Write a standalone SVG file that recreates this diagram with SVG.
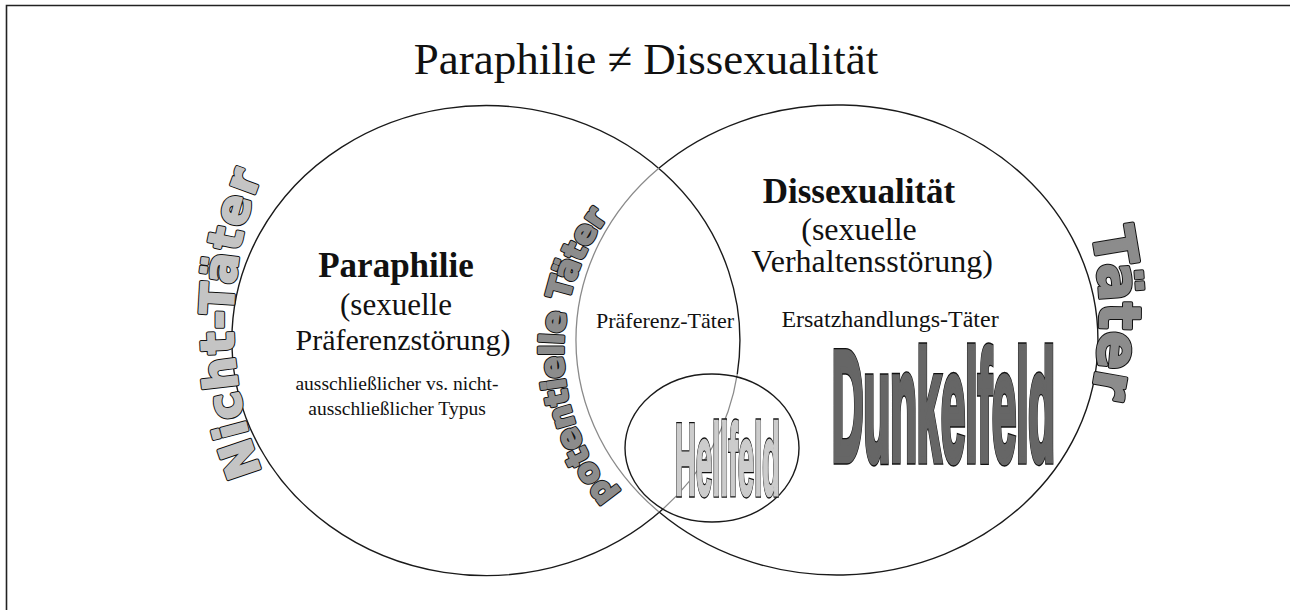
<svg xmlns="http://www.w3.org/2000/svg" width="1290" height="610" viewBox="0 0 1290 610">
  <style>
    .serif { font-family: "Liberation Serif", "Times New Roman", serif; fill: #111; }
    .bold { font-weight: bold; }
    .arc { font-family: "DejaVu Sans", "Verdana", sans-serif; font-weight: bold; stroke-linejoin: round; }
    .arcO { fill: #111; stroke: #111; stroke-width: 4; }
    .big { font-family: "Liberation Sans", Arial, sans-serif; font-weight: bold; }
    .line { fill: none; stroke: #1a1a1a; stroke-width: 1.4; }
    .grayline { fill: none; stroke: #8a8a8a; stroke-width: 1.3; }
  </style>
  <defs>
    <path id="p-nicht" d="M286.6,523 A400,400 0 0,1 286.6,123"/>
    <path id="p-pot" d="M642.3,522 A224,224 0 0,1 632.1,189.2"/>
    <path id="p-taeter" d="M1075.9,176.2 A400,400 0 0,1 1075.9,449.8"/>
  </defs>
  <rect width="1290" height="610" fill="#fff"/>
  <g id="frame">
    <path d="M6.5,610 V5.5 H1290" fill="none" stroke="#222" stroke-width="1.6"/>
  </g>
  <g id="title">
    <text class="serif" x="646" y="74" font-size="45" text-anchor="middle">Paraphilie ≠ Dissexualität</text>
  </g>
  <g id="circle-paraphilie">
    <path class="line" d="M663,509 A254,235 0 1,1 737.3,374"/>
    <path class="grayline" d="M737.3,374 A254,235 0 0,1 663,509"/>
    <text class="serif bold" x="396" y="277" font-size="35" text-anchor="middle">Paraphilie</text>
    <text class="serif" x="396" y="315" font-size="31" text-anchor="middle">(sexuelle</text>
    <text class="serif" x="403" y="350" font-size="30" text-anchor="middle">Präferenzstörung)</text>
    <text class="serif" x="397" y="390" font-size="19.5" text-anchor="middle">ausschließlicher vs. nicht-</text>
    <text class="serif" x="397" y="415" font-size="19.5" text-anchor="middle">ausschließlicher Typus</text>
  </g>
  <g id="circle-dissexualitaet">
    <path class="line" d="M659.1,168 A261,235 0 1,1 659.1,512"/>
    <path class="grayline" d="M659.1,512 A261,235 0 0,1 659.1,168"/>
    <text class="serif bold" x="859" y="203" font-size="35" text-anchor="middle">Dissexualität</text>
    <text class="serif" x="859" y="240" font-size="32" text-anchor="middle">(sexuelle</text>
    <text class="serif" x="872" y="272" font-size="32" text-anchor="middle">Verhaltensstörung)</text>
    <text class="serif" x="890" y="327" font-size="24" text-anchor="middle">Ersatzhandlungs-Täter</text>
  </g>
  <g id="overlap">
    <text class="serif" x="665" y="328" font-size="22" text-anchor="middle">Präferenz-Täter</text>
  </g>
  <g id="ellipse-hellfeld">
    <ellipse class="line" cx="712" cy="448" rx="87" ry="74"/>
    <g transform="translate(727.5,495) scale(1,2.55)">
      <text class="big" x="0" y="0" font-size="40" text-anchor="middle" textLength="105" lengthAdjust="spacingAndGlyphs" fill="#111" stroke="#111" stroke-width="4" vector-effect="non-scaling-stroke">Hellfeld</text>
      <text class="big" x="0" y="0" font-size="40" text-anchor="middle" textLength="105" lengthAdjust="spacingAndGlyphs" fill="#cccccc" stroke="#cccccc" stroke-width="2" vector-effect="non-scaling-stroke">Hellfeld</text>
    </g>
  </g>
  <g id="dunkelfeld">
    <g transform="translate(943.5,460) scale(1,3.13)">
      <text class="big" x="0" y="0" font-size="50" text-anchor="middle" textLength="223" lengthAdjust="spacingAndGlyphs" fill="#111" stroke="#111" stroke-width="7" vector-effect="non-scaling-stroke">Dunkelfeld</text>
      <text class="big" x="0" y="0" font-size="50" text-anchor="middle" textLength="223" lengthAdjust="spacingAndGlyphs" fill="#666" stroke="#666" stroke-width="5" vector-effect="non-scaling-stroke">Dunkelfeld</text>
    </g>
  </g>
  <g id="label-nicht-taeter">
    <text class="arc arcO" font-size="46" letter-spacing="2"><textPath href="#p-nicht" startOffset="50%" text-anchor="middle">Nicht-Täter</textPath></text>
    <text class="arc" font-size="46" letter-spacing="2" fill="#c4c4c4" stroke="#c4c4c4" stroke-width="2"><textPath href="#p-nicht" startOffset="50%" text-anchor="middle">Nicht-Täter</textPath></text>
  </g>
  <g id="label-potentielle-taeter">
    <text class="arc arcO" font-size="32"><textPath href="#p-pot" startOffset="50%" text-anchor="middle">potentielle Täter</textPath></text>
    <text class="arc" font-size="32" fill="#8c8c8c" stroke="#8c8c8c" stroke-width="2"><textPath href="#p-pot" startOffset="50%" text-anchor="middle">potentielle Täter</textPath></text>
  </g>
  <g id="label-taeter">
    <text class="arc arcO" font-size="57"><textPath href="#p-taeter" startOffset="50%" text-anchor="middle">Täter</textPath></text>
    <text class="arc" font-size="57" fill="#8c8c8c" stroke="#8c8c8c" stroke-width="2"><textPath href="#p-taeter" startOffset="50%" text-anchor="middle">Täter</textPath></text>
  </g>
</svg>
